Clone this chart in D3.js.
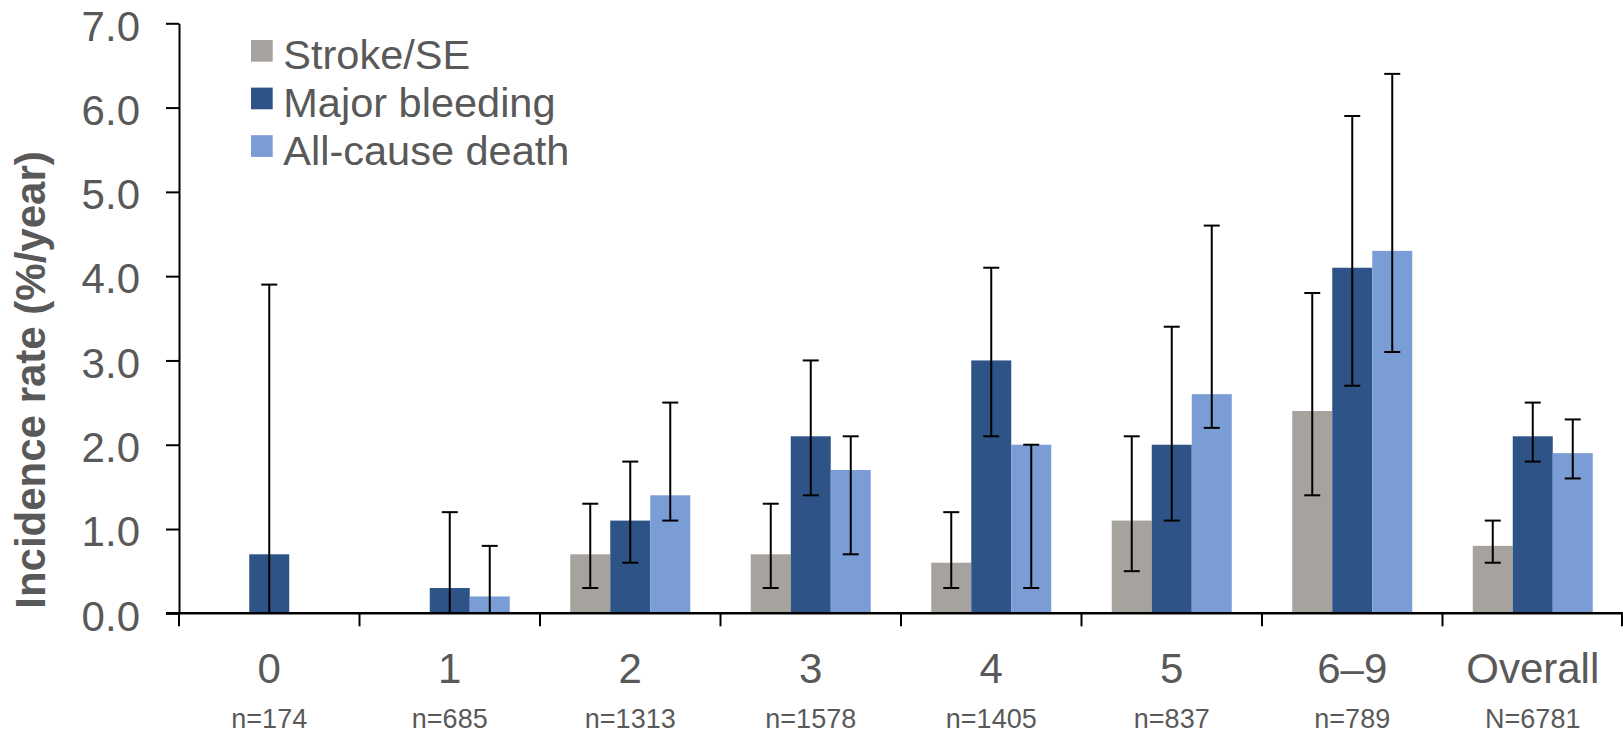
<!DOCTYPE html>
<html>
<head>
<meta charset="utf-8">
<script src="https://cdn.jsdelivr.net/npm/d3@7"></script>
<style>
  html, body { margin: 0; padding: 0; background: #fff; }
  svg text { font-family: "Liberation Sans", Arial, sans-serif; fill: #595959; }
</style>
</head>
<body>
<div id="chart"></div>
<script>
// chart data
const categories = ['0', '1', '2', '3', '4', '5', '6–9', 'Overall']
const sampleSizes = ['n=174', 'n=685', 'n=1313', 'n=1578', 'n=1405', 'n=837', 'n=789', 'N=6781']
const seriesNames = ['Stroke/SE', 'Major bleeding', 'All-cause death']

const strokeRate = [0, 0, 0.7, 0.7, 0.6, 1.1, 2.4, 0.8]
const strokeLow = [null, null, 0.3, 0.3, 0.3, 0.5, 1.4, 0.6]
const strokeHigh = [null, null, 1.3, 1.3, 1.2, 2.1, 3.8, 1.1]

const bleedingRate = [0.7, 0.3, 1.1, 2.1, 3.0, 2.0, 4.1, 2.1]
const bleedingLow = [0, 0, 0.6, 1.4, 2.1, 1.1, 2.7, 1.8]
const bleedingHigh = [3.9, 1.2, 1.8, 3.0, 4.1, 3.4, 5.9, 2.5]

const deathRate = [0, 0.2, 1.4, 1.7, 2.0, 2.6, 4.3, 1.9]
const deathLow = [null, 0, 1.1, 0.7, 0.3, 2.2, 3.1, 1.6]
const deathHigh = [null, 0.8, 2.5, 2.1, 2.0, 4.6, 6.4, 2.3]

const yTicks = [0, 1, 2, 3, 4, 5, 6, 7]

const config = {
  width: 1623,
  height: 735,
  left: 179,
  right: 1623,
  top: 23.3,
  bottom: 613.3,
  barWidth: 40,
  capWidth: 16,
  colors: ['#a6a29d', '#2e5386', '#7a9dd6']
}

// build rows from the arrays
const rates = [strokeRate, bleedingRate, deathRate]
const lows = [strokeLow, bleedingLow, deathLow]
const highs = [strokeHigh, bleedingHigh, deathHigh]

const rows = []
categories.forEach((c, i) => {
  seriesNames.forEach((s, j) => {
    rows.push({ cat: c, series: s, value: rates[j][i], lo: lows[j][i], hi: highs[j][i] })
  })
})

const svg = d3.select('#chart').append('svg')
  .attr('width', config.width)
  .attr('height', config.height)

// scales
const x0 = d3.scaleBand()
  .domain(categories)
  .range([config.left, config.right])
  .padding(0)

const groupWidth = config.barWidth * seriesNames.length
const x1 = d3.scaleBand()
  .domain(seriesNames)
  .range([(x0.bandwidth() - groupWidth) / 2, (x0.bandwidth() + groupWidth) / 2])
  .padding(0)

const y = d3.scaleLinear()
  .domain([0, 7])
  .range([config.bottom, config.top])

const color = d3.scaleOrdinal().domain(seriesNames).range(config.colors)

// bars
svg.append('g')
  .selectAll('rect')
  .data(rows.filter(d => d.value > 0))
  .enter()
  .append('rect')
  .attr('x', d => x0(d.cat) + x1(d.series))
  .attr('y', d => y(d.value))
  .attr('width', x1.bandwidth())
  .attr('height', d => y(0) - y(d.value))
  .attr('fill', d => color(d.series))

// error bars
const errs = svg.append('g')
  .selectAll('g')
  .data(rows.filter(d => d.hi !== null))
  .enter()
  .append('g')
  .attr('stroke', '#000')
  .attr('stroke-width', 2)

const cx = d => x0(d.cat) + x1(d.series) + x1.bandwidth() / 2

errs.append('line')
  .attr('x1', cx).attr('x2', cx)
  .attr('y1', d => y(d.lo)).attr('y2', d => y(d.hi))

errs.append('line')
  .attr('x1', d => cx(d) - config.capWidth / 2).attr('x2', d => cx(d) + config.capWidth / 2)
  .attr('y1', d => y(d.hi)).attr('y2', d => y(d.hi))

errs.filter(d => d.lo > 0).append('line')
  .attr('x1', d => cx(d) - config.capWidth / 2).attr('x2', d => cx(d) + config.capWidth / 2)
  .attr('y1', d => y(d.lo)).attr('y2', d => y(d.lo))

// y axis
const yAxisGroup = svg.append('g')
  .attr('transform', `translate(${config.left},0)`)
  .call(d3.axisLeft(y)
    .tickValues(yTicks)
    .tickFormat(d3.format('.1f'))
    .tickSize(13)
    .tickSizeOuter(0)
    .tickPadding(26))

yAxisGroup.selectAll('path, line').attr('stroke', '#000').attr('stroke-width', 2)
yAxisGroup.selectAll('text')
  .attr('font-size', 42)
  .attr('dy', '0.4em')
  .style('fill', '#595959')

// x axis: baseline and ticks at band edges
const xAxisGroup = svg.append('g')
  .attr('transform', `translate(0,${config.bottom})`)

xAxisGroup.append('line')
  .attr('x1', config.left - 13).attr('x2', config.right)
  .attr('y1', 0).attr('y2', 0)
  .attr('stroke', '#000').attr('stroke-width', 2.5)

const edges = categories.map(c => x0(c)).concat([x0.range()[1] - 1])
xAxisGroup.selectAll('.edge')
  .data(edges)
  .enter()
  .append('line')
  .attr('class', 'edge')
  .attr('x1', d => d).attr('x2', d => d)
  .attr('y1', 0).attr('y2', 13)
  .attr('stroke', '#000').attr('stroke-width', 2)

// category labels
const catAxis = svg.append('g')
  .attr('transform', `translate(0,${config.bottom})`)
  .call(d3.axisBottom(x0).tickSize(0).tickPadding(40))
catAxis.select('.domain').remove()
catAxis.selectAll('text').attr('font-size', 42).style('fill', '#595959')

// sample size labels
const nAxis = svg.append('g')
  .attr('transform', `translate(0,${config.bottom})`)
  .call(d3.axisBottom(x0)
    .tickSize(0)
    .tickPadding(95.5)
    .tickFormat((d, i) => sampleSizes[i]))
nAxis.select('.domain').remove()
nAxis.selectAll('text').attr('font-size', 27).style('fill', '#595959')

// y axis title
svg.append('text')
  .attr('transform', 'translate(45,380) rotate(-90)')
  .attr('text-anchor', 'middle')
  .attr('font-size', 42)
  .attr('font-weight', 'bold')
  .text('Incidence rate (%/year)')

// legend
const legend = svg.append('g')
  .attr('transform', 'translate(251,40)')

const legendRows = legend.selectAll('g')
  .data(seriesNames)
  .enter()
  .append('g')
  .attr('transform', (d, i) => `translate(0,${i * 47.6})`)

legendRows.append('rect')
  .attr('width', 21.7)
  .attr('height', 21.7)
  .attr('fill', d => color(d))

legendRows.append('text')
  .attr('x', 32.3)
  .attr('y', 29.3)
  .attr('font-size', 41.5)
  .text(d => d)
</script>
</body>
</html>
